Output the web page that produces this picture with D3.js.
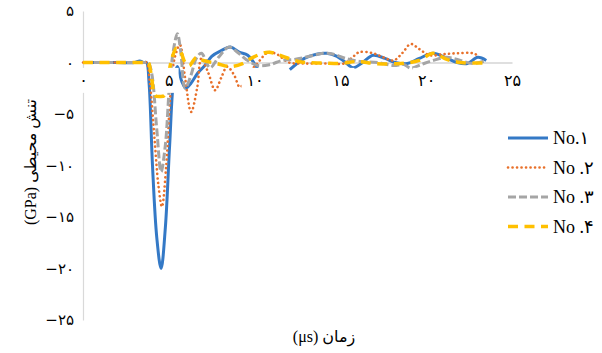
<!DOCTYPE html>
<html>
<head>
<meta charset="utf-8">
<script src="https://cdn.jsdelivr.net/npm/d3@7"></script>
<style>
  body { margin: 0; background: #fff; }
  svg { display: block; }
</style>
</head>
<body>
<svg width="602" height="353"></svg>
<script>
// tick values
const xTicks = [0, 5, 10, 15, 20, 25];
const yTicks = [5, 0, -5, -10, -15, -20, -25];

// series names (legend)
const seriesNames = ["No.۱", "No .۲", "No .۳", "No .۴"];

// No.1 (null = gap in the line)
const time1 = [0, 2.0, 3.0, 3.3, 3.55, 3.7, 3.85, 4.05, 4.3, 4.55, 4.8, 5.05, 5.3, 5.5, 5.75, 6.0, 6.3, 6.7, 7.1, 7.5, 8.0, 8.6, 9.1, 9.6, 10.2, 11.1, 12.05, 12.9, 13.6, 14.2, 14.8, 15.3, 15.75, 16.3, 16.9, 17.6, 18.2, 18.9, 19.6, 20.4, 21.1, 21.8, 22.4, 23.0, 23.5];
const stress1 = [0, 0, 0, 0.15, 0, 0, -2, -10, -17, -20, -16, -8, -1.5, -0.4, -1.8, -2.5, -2.0, -1.0, -0.3, 0.6, 1.1, 1.5, 1.0, 0.7, -0.7, null, -0.7, 0.4, 0.8, 0.9, 0.6, 0, -0.5, 0, 0.7, 0.4, 0, -0.1, 0.4, 0.9, 0.5, 0, -0.1, 0.5, 0.2];

// No.2
const time2 = [0, 2.0, 3.5, 3.7, 3.9, 4.15, 4.4, 4.6, 4.85, 5.1, 5.35, 5.65, 5.95, 6.3, 6.65, 6.9, 7.3, 7.7, 8.05, 8.4, 8.8, 9.15, 9.6, 10.2, 10.8, 11.3, 12.0, 12.8, 13.6, 14.5, 15.2, 15.7, 16.1, 16.9, 17.5, 18.1, 18.6, 19.1, 19.6, 20.2, 21.0, 21.8, 22.7, 23.1];
const stress2 = [0, 0, 0, 0, -2, -7, -12, -14, -10, -3, 0.5, 1.7, -1.5, -4.8, -2.5, 0.4, -1.0, -2.7, -1.5, -0.4, -1.2, -2.4, -1.2, 0, 1.0, 0.8, 0, -0.1, -0.1, -0.1, -0.1, 0.5, 1.0, 0.9, 0.5, 0.2, 0.9, 1.8, 1.3, 0.7, 0.8, 0.9, 0.9, 0.6];

// No.3
const time3 = [0, 2.0, 3.6, 3.8, 4.0, 4.3, 4.55, 4.8, 5.05, 5.3, 5.5, 5.7, 5.95, 6.3, 6.6, 6.9, 7.4, 7.9, 8.5, 9.0, 9.5, 10.2, 10.9, 11.6, 12.3, 13.2, 14.0, 14.6, 15.3, 16.2, 17.2, 18.1, 18.7, 19.1, 19.7, 20.4, 21.2, 22.0, 22.7, 23.5];
const stress3 = [0, 0, 0, 0, -1, -6.5, -10.6, -8, -2, 1.5, 2.8, 1.0, -2.5, -1.2, 0.4, 0.9, -0.5, 0.5, 1.5, 1.0, 0.3, -0.3, -0.2, 0.2, 0.3, 0.6, 0.9, 0.8, 0.4, 0.1, 0, -0.3, -0.2, -0.55, -0.2, 0.2, 0.5, 0.2, -0.1, 0.2];

// No.4
const time4 = [0, 2.0, 3.6, 3.8, 4.0, 4.2, 4.5, 4.75, 4.95, 5.2, 5.45, 5.7, 5.95, 6.2, 6.6, 7.0, 7.8, 8.6, 9.3, 9.9, 10.8, 11.5, 12.3, 13.0, 14.0, 15.0, 16.0, 17.0, 18.5, 19.6, 20.4, 21.2, 22.0, 23.5];
const stress4 = [0, 0, 0, 0, -1.5, -3.2, -3.3, -3.2, -1.5, 0.5, 1.4, 1.0, 0, -0.3, 0.5, 0.2, -0.1, -0.4, -0.1, 0.5, 1.0, 0.7, 0.2, 0, -0.05, -0.1, 0.1, -0.1, -0.1, 0.2, 0.9, 0.3, 0, -0.05];

const times = [time1, time2, time3, time4];
const stresses = [stress1, stress2, stress3, stress4];

// line styles
const styles = [
  {color: "#3479c6", width: 3, dash: null, cap: "butt"},
  {color: "#e8702a", width: 2.6, dash: "0.1 4.4", cap: "round"},
  {color: "#a5a5a5", width: 3, dash: "8 3", cap: "butt"},
  {color: "#ffc000", width: 3.5, dash: "10 6.5", cap: "butt"}
];

const toFa = n => (n < 0 ? "\u2212" : "") + String(Math.abs(n)).replace(/\d/g, d => "۰۱۲۳۴۵۶۷۸۹"[d]);

const svg = d3.select("svg");

const x = d3.scaleLinear().domain([0, 25]).range([83, 512]);
const y = d3.scaleLinear().domain([-25, 5]).range([320, 11]);

// y axis
const yAxis = svg.append("g")
  .attr("transform", `translate(${x(0)},0)`)
  .call(d3.axisLeft(y).tickValues(yTicks).tickSize(0).tickPadding(9).tickFormat(toFa));
yAxis.select(".domain").attr("stroke", "#d9d9d9").attr("stroke-width", 1.2);
yAxis.selectAll("text")
  .attr("font-family", "DejaVu Sans, sans-serif")
  .attr("font-size", 15)
  .attr("fill", "#000");

// x axis line (zero line)
const xLine = svg.append("g")
  .attr("transform", `translate(0,${y(0)})`)
  .call(d3.axisBottom(x).tickValues([]).tickSize(0).tickSizeOuter(0));
xLine.select(".domain").attr("stroke", "#bfbfbf").attr("stroke-width", 1.2);

// series
const line = d3.line()
  .defined(d => d[1] !== null)
  .x(d => x(d[0]))
  .y(d => y(d[1]))
  .curve(d3.curveCatmullRom.alpha(0.5));

times.forEach((ts, i) => {
  const pts = ts.map((t, j) => [t, stresses[i][j]]);
  svg.append("path")
    .attr("d", line(pts))
    .attr("fill", "none")
    .attr("stroke", styles[i].color)
    .attr("stroke-width", styles[i].width)
    .attr("stroke-dasharray", styles[i].dash)
    .attr("stroke-linecap", styles[i].cap)
    .attr("stroke-linejoin", "round");
});

// x tick labels, on top of the lines with white boxes
const xAxis = svg.append("g")
  .attr("transform", `translate(0,${y(0)})`)
  .call(d3.axisBottom(x).tickValues(xTicks).tickSize(0).tickPadding(12).tickFormat(toFa));
xAxis.select(".domain").remove();
xAxis.selectAll("text")
  .attr("font-family", "DejaVu Sans, sans-serif")
  .attr("font-size", 16)
  .attr("fill", "#000");
xAxis.selectAll(".tick").each(function() {
  const t = d3.select(this).select("text");
  const b = t.node().getBBox();
  d3.select(this).insert("rect", "text")
    .attr("x", b.x - 5)
    .attr("y", b.y - 3)
    .attr("width", b.width + 10)
    .attr("height", b.height + 6)
    .attr("fill", "#fff");
});

// axis titles
svg.append("text")
  .attr("transform", `translate(36,162) rotate(-90)`)
  .attr("text-anchor", "middle")
  .attr("font-family", "Liberation Serif, DejaVu Sans, serif")
  .attr("font-size", 16)
  .attr("fill", "#000")
  .text("(GPa) تنش محیطی");

svg.append("text")
  .attr("x", 324)
  .attr("y", 342)
  .attr("text-anchor", "middle")
  .attr("font-family", "Liberation Serif, DejaVu Sans, serif")
  .attr("font-size", 16)
  .attr("fill", "#000")
  .text("(μs) زمان");

// legend
const legend = svg.append("g").attr("transform", "translate(508,138)");
const items = legend.selectAll(".legend-item")
  .data(seriesNames)
  .enter().append("g")
  .attr("class", "legend-item")
  .attr("transform", (d, i) => `translate(0,${i * 29.5})`);

items.append("line")
  .attr("x1", 0).attr("x2", 40)
  .attr("y1", 0).attr("y2", 0)
  .attr("stroke", (d, i) => styles[i].color)
  .attr("stroke-width", (d, i) => styles[i].width)
  .attr("stroke-dasharray", (d, i) => styles[i].dash)
  .attr("stroke-linecap", (d, i) => styles[i].cap);

items.append("text")
  .attr("x", 45)
  .attr("y", 0)
  .attr("dy", "0.35em")
  .attr("font-family", "Liberation Serif, DejaVu Sans, serif")
  .attr("font-size", 18)
  .attr("fill", "#000")
  .text(d => d);
</script>
</body>
</html>
